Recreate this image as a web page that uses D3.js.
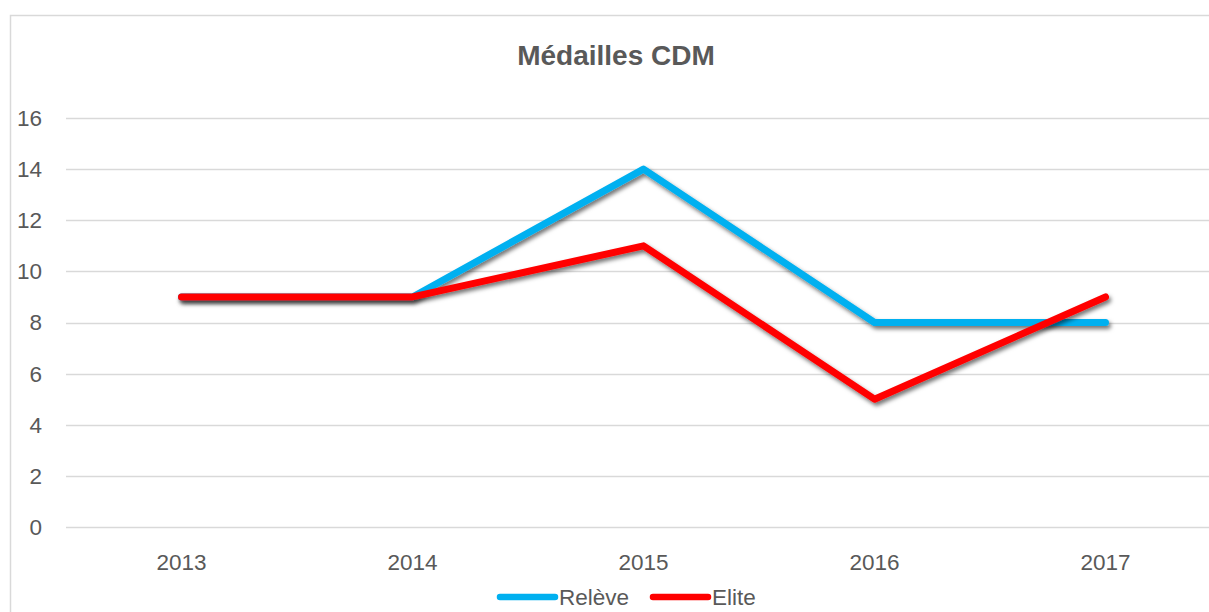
<!DOCTYPE html>
<html>
<head>
<meta charset="utf-8">
<script src="https://cdn.jsdelivr.net/npm/d3@7"></script>
<style>
  body { margin: 0; background: #fff; }
  svg text { font-family: "Liberation Sans", Arial, sans-serif; fill: #595959; }
</style>
</head>
<body>
<svg id="chart" width="1209" height="612"></svg>
<script>
const years = ['2013', '2014', '2015', '2016', '2017']
const releve = [9, 9, 14, 8, 8]
const elite = [9, 9, 11, 5, 9]
const yTicks = [0, 2, 4, 6, 8, 10, 12, 14, 16]

const series = [
  { name: 'Relève', values: releve, color: '#00B0F0' },
  { name: 'Elite', values: elite, color: '#FF0000' }
]

const svg = d3.select('#chart')

// chart frame
svg.append('rect')
  .attr('x', 10.5)
  .attr('y', 15.5)
  .attr('width', 1230)
  .attr('height', 620)
  .attr('fill', 'none')
  .attr('stroke', '#d9d9d9')
  .attr('stroke-width', 1.5)

const defs = svg.append('defs')
defs.append('filter')
  .attr('id', 'shadow')
  .attr('x', '-5%').attr('y', '-20%')
  .attr('width', '110%').attr('height', '140%')
  .append('feDropShadow')
  .attr('dx', 2).attr('dy', 3)
  .attr('stdDeviation', 2)
  .attr('flood-color', '#000')
  .attr('flood-opacity', 0.55)

const x = d3.scaleBand()
  .domain(years)
  .range([66, 1221])

const y = d3.scaleLinear()
  .domain([0, 16])
  .range([527, 118])

// gridlines
svg.append('g')
  .selectAll('line')
  .data(yTicks)
  .enter()
  .append('line')
  .attr('x1', 66)
  .attr('x2', 1221)
  .attr('y1', d => Math.round(y(d)) + 0.5)
  .attr('y2', d => Math.round(y(d)) + 0.5)
  .attr('stroke', '#d9d9d9')
  .attr('stroke-width', 1.3)

// y tick labels
svg.append('g')
  .selectAll('text')
  .data(yTicks)
  .enter()
  .append('text')
  .attr('x', 42)
  .attr('y', d => y(d))
  .attr('dy', '0.35em')
  .attr('text-anchor', 'end')
  .style('font-size', '22.5px')
  .text(d => d)

// x labels
svg.append('g')
  .selectAll('text')
  .data(years)
  .enter()
  .append('text')
  .attr('x', d => x(d) + x.bandwidth() / 2)
  .attr('y', 570)
  .attr('text-anchor', 'middle')
  .style('font-size', '22.5px')
  .text(d => d)

// title
svg.append('text')
  .attr('x', 616)
  .attr('y', 65)
  .attr('text-anchor', 'middle')
  .style('font-size', '28px')
  .style('font-weight', 'bold')
  .text('Médailles CDM')

const line = d3.line()
  .x((d, i) => x(years[i]) + x.bandwidth() / 2)
  .y(d => y(d))

svg.append('g')
  .selectAll('path')
  .data(series)
  .enter()
  .append('path')
  .attr('d', d => line(d.values))
  .attr('fill', 'none')
  .attr('stroke', d => d.color)
  .attr('stroke-width', 7)
  .attr('stroke-linecap', 'round')
  .attr('stroke-linejoin', 'round')
  .attr('filter', 'url(#shadow)')

// legend
const legend = svg.append('g')
const legendX = [500, 653]
series.forEach((s, i) => {
  legend.append('line')
    .attr('x1', legendX[i])
    .attr('x2', legendX[i] + 55)
    .attr('y1', 597)
    .attr('y2', 597)
    .attr('stroke', s.color)
    .attr('stroke-width', 6.5)
    .attr('stroke-linecap', 'round')
  legend.append('text')
    .attr('x', legendX[i] + 59)
    .attr('y', 597)
    .attr('dy', '0.35em')
    .style('font-size', '22.5px')
    .text(s.name)
})
</script>
</body>
</html>
